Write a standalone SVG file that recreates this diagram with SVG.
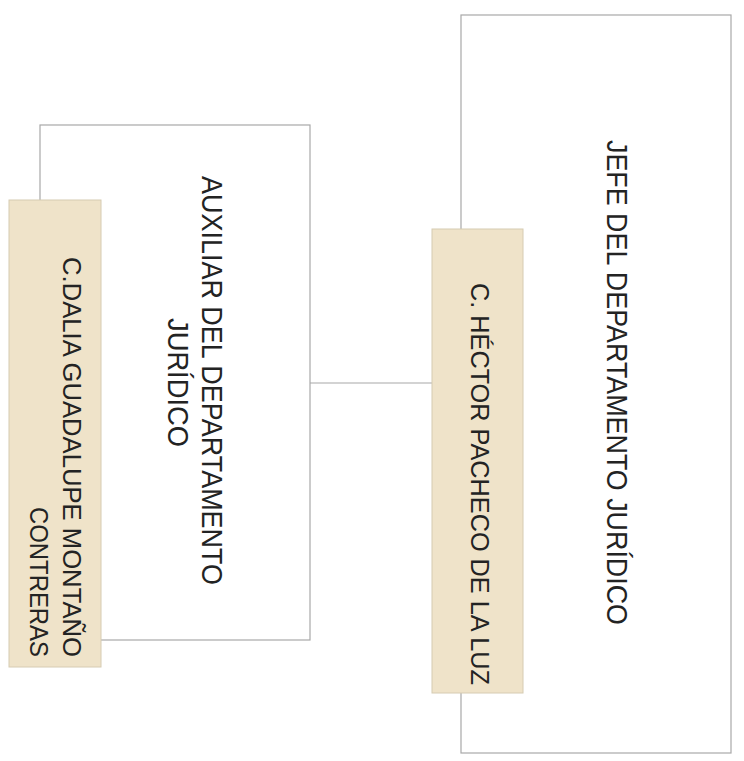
<svg xmlns="http://www.w3.org/2000/svg" width="744" height="761" viewBox="0 0 744 761">
<style>
.box{fill:#ffffff;stroke:#a8a8a8;stroke-width:1.2}
.tan{fill:#efe3c9;stroke:#d6cbb2;stroke-width:1}
.t{font-family:"Liberation Sans",Arial,sans-serif;fill:#232323}
.conn{stroke:#a8a8a8;stroke-width:1.2;fill:none}
</style>
<rect width="744" height="761" fill="#ffffff"/>
<g id="connectors">
<line class="conn" x1="310" y1="383" x2="432" y2="383"/>
</g>
<g id="node-auxiliar">
<rect class="box" x="40" y="125" width="270" height="515"/>
<text class="t" font-size="29" text-anchor="middle" transform="translate(201.5,380.5) rotate(90)" textLength="409" lengthAdjust="spacingAndGlyphs">AUXILIAR DEL DEPARTAMENTO</text>
<text class="t" font-size="29" text-anchor="middle" transform="translate(168,382.5) rotate(90)" textLength="129" lengthAdjust="spacingAndGlyphs">JURÍDICO</text>
</g>
<g id="node-dalia">
<rect class="tan" x="9" y="200" width="92" height="467"/>
<text class="t" font-size="25" text-anchor="end" transform="translate(63,657) rotate(90)" textLength="400" lengthAdjust="spacingAndGlyphs">C.DALIA GUADALUPE MONTAÑO</text>
<text class="t" font-size="25" text-anchor="end" transform="translate(30,657) rotate(90)" textLength="150" lengthAdjust="spacingAndGlyphs">CONTRERAS</text>
</g>
<g id="node-jefe">
<rect class="box" x="461" y="15" width="270" height="738"/>
<text class="t" font-size="29" text-anchor="middle" transform="translate(607,382.5) rotate(90)" textLength="485" lengthAdjust="spacingAndGlyphs">JEFE DEL DEPARTAMENTO JURÍDICO</text>
</g>
<g id="node-hector">
<rect class="tan" x="432" y="229" width="91" height="464"/>
<text class="t" font-size="25" text-anchor="end" transform="translate(470.5,685) rotate(90)" textLength="402" lengthAdjust="spacingAndGlyphs">C. HÉCTOR PACHECO DE LA LUZ</text>
</g>
</svg>
